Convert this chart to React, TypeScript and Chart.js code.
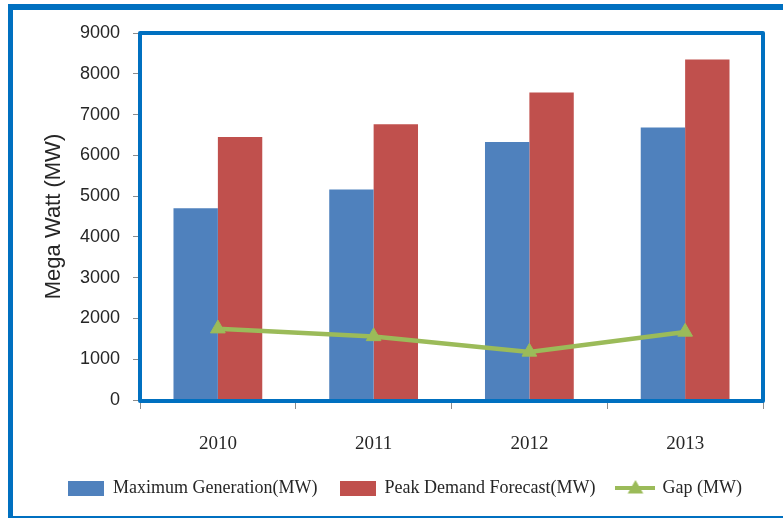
import React, { useEffect, useRef } from "react";
import { Chart, registerables } from "chart.js";

Chart.register(...registerables);

// Data
const years = ["2010", "2011", "2012", "2013"];
const maxGeneration = [4700, 5160, 6330, 6680];
const peakDemand = [6450, 6760, 7540, 8350];
const gap = [1750, 1560, 1180, 1670];
const seriesNames = ["Maximum Generation(MW)", "Peak Demand Forecast(MW)", "Gap (MW)"];
const yAxisTitle = "Mega Watt (MW)";
const yMin = 0;
const yMax = 9000;
const yStep = 1000;

// Styling
const BLUE = "#4F81BD";
const RED = "#C0504D";
const GREEN = "#9BBB59";
const FRAME = "#0070C0";
const TEXT = "#262626";
const TICK = "#8c8c8c";
const W = 783;
const H = 518;

function boxIcon(color: string, w: number, h: number): HTMLCanvasElement {
  const c = document.createElement("canvas");
  c.width = w;
  c.height = h;
  const g = c.getContext("2d")!;
  g.fillStyle = color;
  g.fillRect(0, 0, w, h);
  return c;
}

function lineIcon(color: string): HTMLCanvasElement {
  const w = 40;
  const h = 20;
  const c = document.createElement("canvas");
  c.width = w;
  c.height = h;
  const g = c.getContext("2d")!;
  g.strokeStyle = color;
  g.lineWidth = 4;
  g.beginPath();
  g.moveTo(0, h / 2);
  g.lineTo(w, h / 2);
  g.stroke();
  const r = 9;
  const cx = w / 2;
  const cy = h / 2 + 1;
  g.fillStyle = color;
  g.beginPath();
  g.moveTo(cx, cy - r);
  g.lineTo(cx + r * 0.866, cy + r / 2);
  g.lineTo(cx - r * 0.866, cy + r / 2);
  g.closePath();
  g.fill();
  return c;
}

// Blue frame around the plotting area
const plotFrame = {
  id: "plotFrame",
  afterDatasetsDraw(chart: any) {
    const { ctx, chartArea: a } = chart;
    ctx.save();
    ctx.strokeStyle = FRAME;
    ctx.lineWidth = 4;
    ctx.lineJoin = "round";
    ctx.strokeRect(a.left, a.top, a.right - a.left, a.bottom - a.top + 1);
    ctx.restore();
  },
};

export default function App() {
  const canvasRef = useRef<HTMLCanvasElement | null>(null);

  useEffect(() => {
    const canvas = canvasRef.current;
    if (!canvas) return;
    const icons = [boxIcon(BLUE, 36, 15), boxIcon(RED, 36, 15), lineIcon(GREEN)];
    const colors = [BLUE, RED, GREEN];

    const chart = new Chart(canvas, {
      type: "bar",
      data: {
        labels: years,
        datasets: [
          {
            label: seriesNames[0],
            data: maxGeneration,
            backgroundColor: BLUE,
            categoryPercentage: 0.57,
            barPercentage: 1.0,
            order: 1,
          },
          {
            label: seriesNames[1],
            data: peakDemand,
            backgroundColor: RED,
            categoryPercentage: 0.57,
            barPercentage: 1.0,
            order: 1,
          },
          {
            type: "line",
            label: seriesNames[2],
            data: gap,
            borderColor: GREEN,
            backgroundColor: GREEN,
            borderWidth: 4.5,
            pointStyle: "triangle",
            pointRadius: 8.5,
            pointBackgroundColor: GREEN,
            pointBorderColor: GREEN,
            pointBorderWidth: 1,
            tension: 0,
            order: 0,
          } as any,
        ],
      },
      options: {
        responsive: false,
        animation: false,
        devicePixelRatio: 1,
        layout: { padding: { left: 27, right: 0, top: 33, bottom: 11 } },
        plugins: {
          tooltip: { enabled: false },
          legend: {
            position: "bottom",
            labels: {
              usePointStyle: true,
              pointStyleWidth: 36,
              padding: 22,
              color: TEXT,
              font: { family: "'Liberation Serif', serif", size: 18 },
              generateLabels: () =>
                seriesNames.map((name, i) => ({
                  text: name,
                  pointStyle: icons[i] as any,
                  fillStyle: colors[i],
                  strokeStyle: colors[i],
                  lineWidth: 0,
                  hidden: false,
                  datasetIndex: i,
                  fontColor: TEXT,
                })),
            },
          },
        },
        scales: {
          x: {
            grid: {
              offset: true,
              drawOnChartArea: false,
              drawTicks: true,
              tickLength: 9,
              color: TICK,
            },
            border: { display: false },
            ticks: {
              color: TEXT,
              padding: 24,
              font: { family: "'Liberation Serif', serif", size: 19 },
            },
            afterFit: (scale: any) => {
              scale.height = 57;
            },
          },
          y: {
            min: yMin,
            max: yMax,
            ticks: {
              stepSize: yStep,
              color: TEXT,
              padding: 13,
              font: { family: "'Liberation Sans', sans-serif", size: 18 },
              callback: (v: any) => String(v),
            },
            grid: {
              drawOnChartArea: false,
              drawTicks: true,
              tickLength: 7,
              color: TICK,
            },
            border: { display: false },
            title: {
              display: true,
              text: yAxisTitle,
              color: TEXT,
              font: { family: "'Liberation Sans', sans-serif", size: 22 },
              padding: { top: 14, bottom: 0 },
            },
            afterFit: (scale: any) => {
              scale.width = 113;
            },
          },
          // empty margin column on the right of the plot
          margin: {
            type: "linear",
            position: "right",
            display: true,
            grid: { display: false },
            border: { display: false },
            ticks: { display: false },
            afterFit: (scale: any) => {
              scale.width = 20;
            },
          } as any,
        },
      },
      plugins: [plotFrame],
    });

    return () => chart.destroy();
  }, []);

  return (
    <div
      style={{
        position: "fixed",
        left: 0,
        top: 0,
        width: W,
        height: H,
        background: "#ffffff",
        overflow: "hidden",
      }}
    >
      <div
        style={{
          position: "absolute",
          left: 8,
          top: 4,
          width: W + 20,
          height: H - 4,
          boxSizing: "border-box",
          borderLeft: `5px solid ${FRAME}`,
          borderTop: `6px solid ${FRAME}`,
          borderBottom: `2px solid ${FRAME}`,
        }}
      />
      <canvas
        ref={canvasRef}
        width={W}
        height={H}
        style={{ position: "absolute", left: 0, top: 0, width: W, height: H }}
      />
    </div>
  );
}
